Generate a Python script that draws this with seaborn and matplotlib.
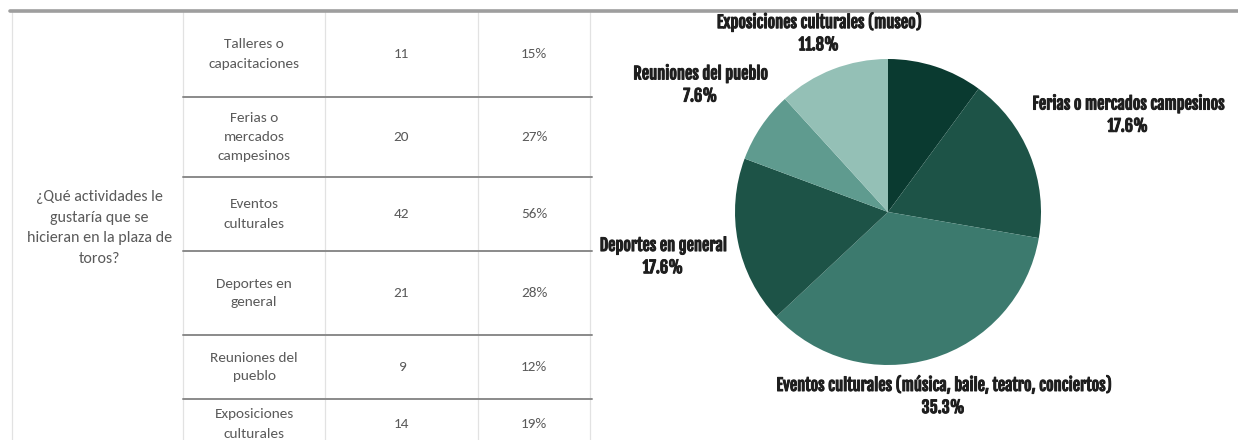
import numpy as np
import matplotlib
matplotlib.use("Agg")
import matplotlib.pyplot as plt
import matplotlib.patheffects as pe
import seaborn as sns

# ---- data -------------------------------------------------------------
question = "¿Qué actividades le\ngustaría que se\nhicieran en la plaza de\ntoros?"
table_activities = [
    "Talleres o\ncapacitaciones",
    "Ferias o\nmercados\ncampesinos",
    "Eventos\nculturales",
    "Deportes en\ngeneral",
    "Reuniones del\npueblo",
    "Exposiciones\nculturales",
]
table_counts = [11, 20, 42, 21, 9, 14]
respondents = 75

pie_labels = [
    "Talleres o capacitaciones",
    "Ferias o mercados campesinos",
    "Eventos culturales (música, baile, teatro, conciertos)",
    "Deportes en general",
    "Reuniones del pueblo",
    "Exposiciones culturales (museo)",
]
pie_values = [12, 21, 42, 21, 9, 14]

# ---- style ------------------------------------------------------------
sns.set_theme(style="white")
plt.rcParams["font.family"] = ["Carlito", "Lato", "DejaVu Sans"]

pie_colors = sns.color_palette(
    ["#0a3a30", "#1d5347", "#3c7a6e", "#1d5347", "#5f9b8f", "#94c0b6"]
)
# radial distance of each slice label (in pie radii); None = no label
label_radius = [None, 1.69, 1.26, 1.50, 1.48, 1.25]

W, H = 1238, 440
fig = plt.figure(figsize=(W / 100, H / 100), dpi=100)

# ---- table (drawn in pixel-like coordinates) --------------------------
tab = fig.add_axes([0, 0, 1, 1])
tab.set_xlim(0, W)
tab.set_ylim(H, 0)
tab.axis("off")

col_edges = [12, 183, 325, 478, 590]
row_edges = [11, 97, 177, 251, 335, 399, 452]
text_color = "#5a5a5a"
fs = 11

for x in col_edges:
    tab.plot([x, x], [11, H], color="#e2e2e2", lw=0.9, zorder=1)
for y in row_edges[1:-1]:
    tab.plot([col_edges[1], col_edges[-1] + 2], [y, y], color="#8a8a8a", lw=1.4, zorder=2)
tab.plot([10, W], [11, 11], color="#9e9e9e", lw=2.6, zorder=3)

tab.text((col_edges[0] + col_edges[1]) / 2 + 2, 228, question, ha="center", va="center",
         fontsize=fs + 0.5, color=text_color, linespacing=1.6)

for i, (act, cnt) in enumerate(zip(table_activities, table_counts)):
    yc = (row_edges[i] + row_edges[i + 1]) / 2
    if i == len(table_activities) - 1:
        yc = 424
    tab.text((col_edges[1] + col_edges[2]) / 2, yc, act, ha="center", va="center",
             fontsize=fs, color=text_color, linespacing=1.7)
    tab.text((col_edges[2] + col_edges[3]) / 2, yc, f"{cnt}", ha="center", va="center",
             fontsize=fs, color=text_color)
    pct = round(cnt / respondents * 100)
    tab.text((col_edges[3] + col_edges[4]) / 2, yc, f"{pct}%", ha="center", va="center",
             fontsize=fs, color=text_color)

# ---- pie chart ----------------------------------------------------------
cx, cy, r = 888, 212, 153
pie_ax = fig.add_axes([(cx - r) / W, 1 - (cy + r) / H, 2 * r / W, 2 * r / H])
wedges, _ = pie_ax.pie(pie_values, colors=pie_colors, startangle=90, counterclock=False,
                       radius=1.0, wedgeprops=dict(linewidth=0))
pie_ax.set_xlim(-1, 1)
pie_ax.set_ylim(-1, 1)
pie_ax.axis("off")

total = sum(pie_values)
label_font = ["Fjalla One", "Oswald", "DejaVu Sans"]
label_color = "#1e1e1e"
for w, lab, val, rad in zip(wedges, pie_labels, pie_values, label_radius):
    if rad is None:
        continue
    mid = np.deg2rad((w.theta1 + w.theta2) / 2)
    x, y = rad * np.cos(mid), rad * np.sin(mid)
    pie_ax.text(x, y, f"{lab}\n{val / total * 100:.1f}%", ha="center", va="center",
                fontsize=11.8, family=label_font, color=label_color,
                linespacing=1.3, clip_on=False,
                path_effects=[pe.withStroke(linewidth=0.7, foreground=label_color)])

fig.savefig("out.png", dpi=100, facecolor="white")
